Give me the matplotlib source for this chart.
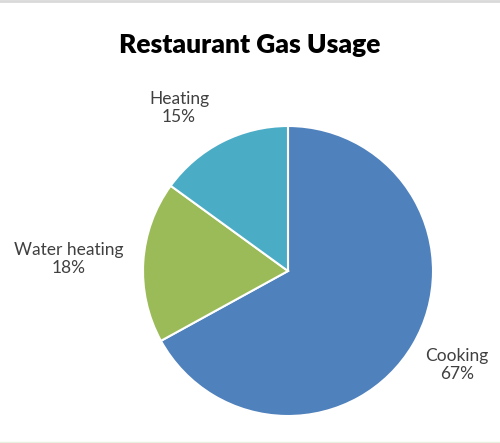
import matplotlib.pyplot as plt

categories = ["Cooking", "Water heating", "Heating"]
shares = [67, 18, 15]
colors = ["#4F81BD", "#9BBB59", "#4BACC6"]

W, H = 500, 443
fig = plt.figure(figsize=(W / 100, H / 100), dpi=100)
plt.rcParams["font.family"] = ["Lato", "DejaVu Sans"]

# pie centre (288, 271) px, radius 145 px
cx, cy, r = 288, 271, 145
ax = fig.add_axes([(cx - r) / W, (H - cy - r) / H, 2 * r / W, 2 * r / H])
ax.pie(shares, colors=colors, startangle=90, counterclock=False, radius=1,
       wedgeprops=dict(edgecolor="white", linewidth=1.5))
ax.set_xlim(-1, 1)
ax.set_ylim(-1, 1)
ax.set_aspect("equal")
ax.axis("off")

fig.text(250 / W, 1 - 45 / H, "Restaurant Gas Usage", ha="center", va="center",
         fontsize=19, fontweight="heavy", color="black")

label_pos = {"Cooking": (457, 365), "Water heating": (69, 259), "Heating": (179, 108)}
for name, val in zip(categories, shares):
    x, y = label_pos[name]
    fig.text(x / W, 1 - y / H, f"{name}\n{val}%", ha="center", va="center",
             fontsize=12.5, color="#404040", linespacing=1.2)

# thin frame lines like the screenshot
fig.add_artist(plt.Line2D([0, 1], [1 - 1 / H, 1 - 1 / H], color="#d9d9d9", linewidth=2))
fig.add_artist(plt.Line2D([0, 1], [1 / H, 1 / H], color="#e8f0e0", linewidth=1))

fig.savefig("out.png", dpi=100)
